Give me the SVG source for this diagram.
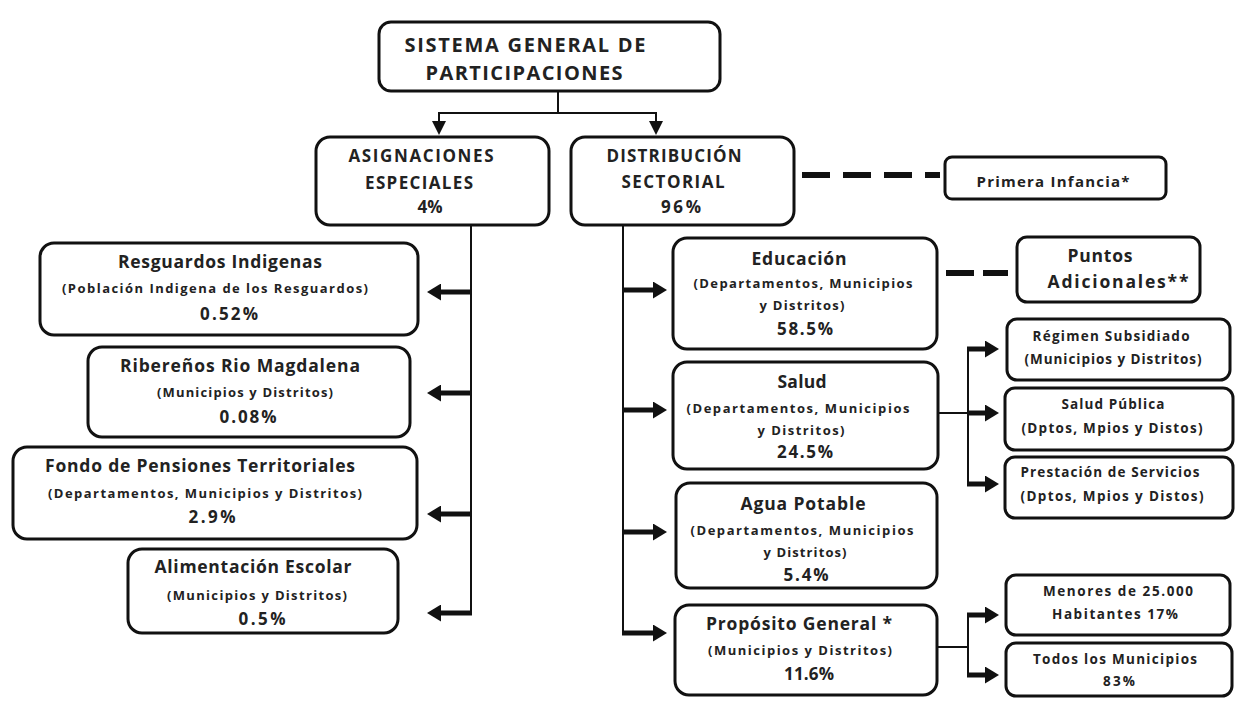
<svg xmlns="http://www.w3.org/2000/svg" width="1255" height="705" viewBox="0 0 1255 705">
<defs>
<style>
.box{fill:#fff;stroke:#111;stroke-width:3}
text{font-family:"Open Sans","Liberation Sans",sans-serif;fill:#222;text-anchor:middle;font-weight:bold}
.h1{font-size:20px}
.h2{font-size:17px}
.t{font-size:17.5px}
.s{font-size:13px}
.p{font-size:17px}
.r{font-size:13.5px}
.thin{stroke:#111;stroke-width:2;fill:none}
.thick{stroke:#111;stroke-width:5;fill:none}
.dash{stroke:#111;stroke-width:6;fill:none}
</style>
<marker id="big" viewBox="0 0 10 10" refX="0" refY="5" markerWidth="14" markerHeight="17" markerUnits="userSpaceOnUse" orient="auto" preserveAspectRatio="none">
<path d="M0,0 L10,5 L0,10 z" fill="#111"/>
</marker>
<marker id="small" viewBox="0 0 10 10" refX="0" refY="5" markerWidth="14" markerHeight="14" markerUnits="userSpaceOnUse" orient="auto" preserveAspectRatio="none">
<path d="M0,0 L10,5 L0,10 z" fill="#111"/>
</marker>
</defs>
<rect width="1255" height="705" fill="#fff"/>

<g id="connectors">
<line class="thin" x1="558" y1="90" x2="558" y2="113"/>
<line class="thin" x1="439" y1="113" x2="656" y2="113"/>
<line class="thin" x1="439" y1="112" x2="439" y2="121" marker-end="url(#small)"/>
<line class="thin" x1="656" y1="112" x2="656" y2="121" marker-end="url(#small)"/>

<line class="dash" x1="802" y1="175" x2="940" y2="175" stroke-dasharray="28 13"/>
<line class="dash" x1="946" y1="273" x2="1008" y2="273" stroke-dasharray="28 9"/>

<line class="thin" x1="471" y1="225" x2="471" y2="615"/>
<line class="thick" x1="472" y1="292" x2="441" y2="292" marker-end="url(#big)"/>
<line class="thick" x1="472" y1="393" x2="441" y2="393" marker-end="url(#big)"/>
<line class="thick" x1="472" y1="514" x2="441" y2="514" marker-end="url(#big)"/>
<line class="thick" x1="472" y1="613" x2="441" y2="613" marker-end="url(#big)"/>

<line class="thin" x1="623" y1="225" x2="623" y2="635"/>
<line class="thick" x1="622" y1="290" x2="653" y2="290" marker-end="url(#big)"/>
<line class="thick" x1="622" y1="410" x2="653" y2="410" marker-end="url(#big)"/>
<line class="thick" x1="622" y1="532" x2="653" y2="532" marker-end="url(#big)"/>
<line class="thick" x1="622" y1="633" x2="653" y2="633" marker-end="url(#big)"/>

<line class="thin" x1="938" y1="413" x2="968" y2="413"/>
<line class="thin" x1="968" y1="348" x2="968" y2="485"/>
<line class="thick" x1="967" y1="349" x2="985" y2="349" marker-end="url(#big)"/>
<line class="thick" x1="967" y1="413" x2="985" y2="413" marker-end="url(#big)"/>
<line class="thick" x1="967" y1="484" x2="985" y2="484" marker-end="url(#big)"/>

<line class="thin" x1="937" y1="647" x2="968" y2="647"/>
<line class="thin" x1="968" y1="614" x2="968" y2="676"/>
<line class="thick" x1="967" y1="615" x2="985" y2="615" marker-end="url(#big)"/>
<line class="thick" x1="967" y1="675" x2="985" y2="675" marker-end="url(#big)"/>
</g>

<g id="sgp">
<rect class="box" x="379" y="22" width="341" height="69" rx="12"/>
<text class="h1" x="525" y="52" textLength="241" lengthAdjust="spacing">SISTEMA GENERAL DE</text>
<text class="h1" x="524" y="80" textLength="197" lengthAdjust="spacing">PARTICIPACIONES</text>
</g>

<g id="asignaciones">
<rect class="box" x="316" y="137" width="233" height="88" rx="14"/>
<text class="h2" x="421" y="162" textLength="145" lengthAdjust="spacing">ASIGNACIONES</text>
<text class="h2" x="419" y="189" textLength="108" lengthAdjust="spacing">ESPECIALES</text>
<text class="h2" x="430" y="213">4%</text>
</g>

<g id="distribucion">
<rect class="box" x="571" y="137" width="223" height="88" rx="14"/>
<text class="h2" x="674" y="162" textLength="135" lengthAdjust="spacing">DISTRIBUCIÓN</text>
<text class="h2" x="673" y="188" textLength="103" lengthAdjust="spacing">SECTORIAL</text>
<text class="h2" x="681" y="213" textLength="40" lengthAdjust="spacing">96%</text>
</g>

<g id="primera">
<rect class="box" x="945" y="157" width="221" height="42" rx="7"/>
<text class="r" x="1053" y="187" style="font-size:15px" textLength="153" lengthAdjust="spacing">Primera Infancia*</text>
</g>

<g id="resguardos">
<rect class="box" x="40" y="243" width="378" height="92" rx="14"/>
<text class="t" x="220" y="268" textLength="204" lengthAdjust="spacing">Resguardos Indigenas</text>
<text class="s" x="215" y="293" textLength="306" lengthAdjust="spacing">(Población Indigena de los Resguardos)</text>
<text class="p" x="229" y="320" textLength="58" lengthAdjust="spacing">0.52%</text>
</g>

<g id="riberenos">
<rect class="box" x="88" y="347" width="322" height="90" rx="14"/>
<text class="t" x="240" y="372" textLength="240" lengthAdjust="spacing">Ribereños Rio Magdalena</text>
<text class="s" x="245" y="397" textLength="176" lengthAdjust="spacing">(Municipios y Distritos)</text>
<text class="p" x="248" y="423" textLength="57" lengthAdjust="spacing">0.08%</text>
</g>

<g id="fondo">
<rect class="box" x="13" y="447" width="404" height="92" rx="14"/>
<text class="t" x="200" y="472" textLength="310" lengthAdjust="spacing">Fondo de Pensiones Territoriales</text>
<text class="s" x="205" y="498" textLength="314" lengthAdjust="spacing">(Departamentos, Municipios y Distritos)</text>
<text class="p" x="212" y="523" textLength="47" lengthAdjust="spacing">2.9%</text>
</g>

<g id="alimentacion">
<rect class="box" x="128" y="549" width="270" height="84" rx="14"/>
<text class="t" x="253" y="573" textLength="197" lengthAdjust="spacing">Alimentación Escolar</text>
<text class="s" x="257" y="600" textLength="180" lengthAdjust="spacing">(Municipios y Distritos)</text>
<text class="p" x="262" y="625" textLength="47" lengthAdjust="spacing">0.5%</text>
</g>

<g id="educacion">
<rect class="box" x="673" y="238" width="264" height="111" rx="14"/>
<text class="t" x="799" y="265" textLength="95" lengthAdjust="spacing">Educación</text>
<text class="s" x="803" y="288" textLength="219" lengthAdjust="spacing">(Departamentos, Municipios</text>
<text class="s" x="802" y="310" textLength="85" lengthAdjust="spacing">y Distritos)</text>
<text class="p" x="805" y="335" textLength="56" lengthAdjust="spacing">58.5%</text>
</g>

<g id="puntos">
<rect class="box" x="1017" y="237" width="183" height="65" rx="10"/>
<text class="t" x="1100" y="262" textLength="65" lengthAdjust="spacing">Puntos</text>
<text class="t" x="1118" y="288" textLength="141" lengthAdjust="spacing">Adicionales**</text>
</g>

<g id="salud">
<rect class="box" x="673" y="362" width="265" height="107" rx="14"/>
<text class="t" x="802" y="388" textLength="49" lengthAdjust="spacing">Salud</text>
<text class="s" x="798" y="413" textLength="223" lengthAdjust="spacing">(Departamentos, Municipios</text>
<text class="s" x="801" y="435" textLength="87" lengthAdjust="spacing">y Distritos)</text>
<text class="p" x="805" y="458" textLength="56" lengthAdjust="spacing">24.5%</text>
</g>

<g id="regimen">
<rect class="box" x="1007" y="319" width="223" height="61" rx="10"/>
<text class="r" x="1111" y="341" textLength="157" lengthAdjust="spacing">Régimen Subsidiado</text>
<text class="r" x="1113" y="364" textLength="177" lengthAdjust="spacing">(Municipios y Distritos)</text>
</g>

<g id="saludpublica">
<rect class="box" x="1005" y="388" width="228" height="62" rx="10"/>
<text class="r" x="1113" y="409" textLength="103" lengthAdjust="spacing">Salud Pública</text>
<text class="r" x="1112" y="433" textLength="181" lengthAdjust="spacing">(Dptos, Mpios y Distos)</text>
</g>

<g id="prestacion">
<rect class="box" x="1005" y="457" width="228" height="61" rx="10"/>
<text class="r" x="1110" y="477" textLength="179" lengthAdjust="spacing">Prestación de Servicios</text>
<text class="r" x="1112" y="501" textLength="183" lengthAdjust="spacing">(Dptos, Mpios y Distos)</text>
</g>

<g id="agua">
<rect class="box" x="676" y="483" width="261" height="105" rx="14"/>
<text class="t" x="803" y="510" textLength="125" lengthAdjust="spacing">Agua Potable</text>
<text class="s" x="802" y="535" textLength="223" lengthAdjust="spacing">(Departamentos, Municipios</text>
<text class="s" x="805" y="557" textLength="83" lengthAdjust="spacing">y Distritos)</text>
<text class="p" x="806" y="581" textLength="45" lengthAdjust="spacing">5.4%</text>
</g>

<g id="proposito">
<rect class="box" x="675" y="605" width="262" height="90" rx="14"/>
<text class="t" x="799" y="630" textLength="186" lengthAdjust="spacing">Propósito General *</text>
<text class="s" x="800" y="655" textLength="184" lengthAdjust="spacing">(Municipios y Distritos)</text>
<text class="p" x="809" y="680" textLength="50" lengthAdjust="spacing">11.6%</text>
</g>

<g id="menores">
<rect class="box" x="1006" y="575" width="224" height="60" rx="10"/>
<text class="r" x="1118" y="596" textLength="150" lengthAdjust="spacing">Menores de 25.000</text>
<text class="r" x="1115" y="619" textLength="126" lengthAdjust="spacing">Habitantes 17%</text>
</g>

<g id="todos">
<rect class="box" x="1006" y="643" width="226" height="53" rx="10"/>
<text class="r" x="1115" y="664" textLength="164" lengthAdjust="spacing">Todos los Municipios</text>
<text class="r" x="1119" y="686" textLength="32" lengthAdjust="spacing">83%</text>
</g>
</svg>
